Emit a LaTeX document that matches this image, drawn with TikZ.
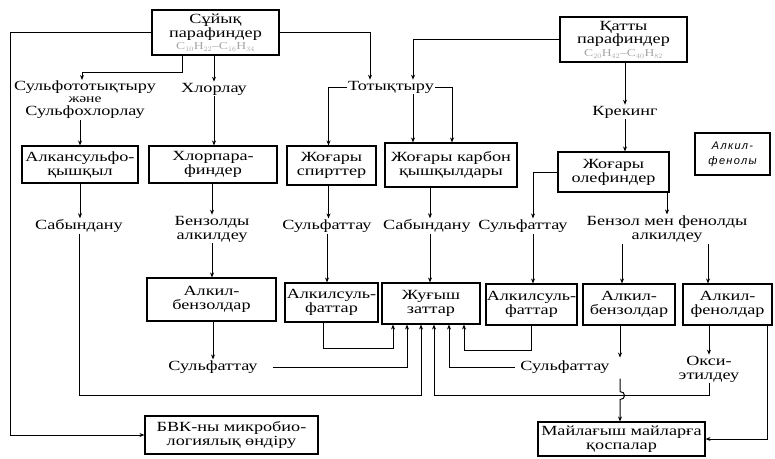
\documentclass[tikz,border=0pt]{standalone}
\usepackage{fontspec}
\setmainfont{Liberation Serif}[FakeStretch=1.3]
\newfontfamily\notefont{Liberation Sans}[LetterSpace=12]
\usetikzlibrary{arrows.meta}
\newcommand\formulatext{\fontsize{10.5}{11}\selectfont\color{black!35}}
\begin{document}
\begin{tikzpicture}[x=1pt,y=-1pt,
  every node/.style={font=\fontsize{14}{14}\selectfont, align=center, inner sep=1pt},
  pbox/.style 2 args={draw, line width=1.1pt, inner sep=0pt, minimum width=#1, minimum height=#2},
  feedbox/.style={pbox={127pt}{45pt}, font=\fontsize{14}{12.5}\selectfont},
  notebox/.style={draw, line width=1.1pt, inner sep=0pt, minimum width=75pt, minimum height=42pt,
    font=\notefont\itshape\fontsize{11}{15}\selectfont},
  flow/.style={line width=1pt, -{Stealth[length=5pt,width=4pt]}}
]
\useasboundingbox (0,0) rectangle (775,458);

% raw materials
\node[feedbox] (suy) at (215.5,32.5) {Сұйық\\парафиндер\\{\formulatext C$_{10}$H$_{22}$–C$_{16}$H$_{34}$}};
\node[feedbox] (kat) at (623.5,39.5) {Қатты\\парафиндер\\{\formulatext C$_{20}$H$_{42}$–C$_{40}$H$_{82}$}};

% first processes
\node (sulfox) at (85,100) {Сульфототықтыру\\[-2pt]{\fontsize{12}{10}\selectfont және}\\[-1pt]Сульфохлорлау};
\node (hlor) at (214,89) {Хлорлау};
\node (tot) at (391,87) {Тотықтыру};
\node (krek) at (625,112) {Крекинг};

% intermediate products
\node[pbox={116pt}{37pt}] (alks) at (80,164.5) {Алкансульфо-\\қышқыл};
\node[pbox={128pt}{37pt}] (hlp) at (213,164.5) {Хлорпара-\\финдер};
\node[pbox={89pt}{39pt}] (spir) at (331.5,165.5) {Жоғары\\спирттер};
\node[pbox={132pt}{44pt}] (karb) at (451,165) {Жоғары карбон\\қышқылдары};
\node[pbox={111pt}{40pt}] (olef) at (613.5,172) {Жоғары\\олефиндер};
\node[notebox] (alfen) at (732.5,154) {Алкил-\\фенолы};

% second processes
\node (sab1) at (79,226) {Сабындану};
\node (benz) at (212,229) {Бензолды\\алкилдеу};
\node (sulf1) at (327,226) {Сульфаттау};
\node (sab2) at (427,226) {Сабындану};
\node (sulf2) at (523,226) {Сульфаттау};
\node (benfen) at (667,229) {Бензол мен фенолды\\алкилдеу};

% products
\node[pbox={129pt}{43pt}] (albz1) at (211.5,299.5) {Алкил-\\бензолдар};
\node[pbox={93pt}{39pt}] (alsf1) at (331.5,302.5) {Алкилсуль-\\фаттар};
\node[pbox={98pt}{41pt}] (zhug) at (431,303.5) {Жуғыш\\заттар};
\node[pbox={91pt}{41pt}] (alsf2) at (531.5,304.5) {Алкилсуль-\\фаттар};
\node[pbox={92pt}{41pt}] (albz2) at (629,304.5) {Алкил-\\бензолдар};
\node[pbox={89pt}{41pt}] (alfd) at (727.5,304.5) {Алкил-\\фенолдар};

% final processes
\node (sulf3) at (213,367) {Сульфаттау};
\node (sulf4) at (565,367) {Сульфаттау};
\node (oksi) at (709,369) {Окси-\\этилдеу};

% end products
\node[pbox={173pt}{38pt}] (bvk) at (231.5,435) {БВК-ны микробио-\\логиялық өндіру};
\node[pbox={167pt}{34pt}] (mai) at (621.5,439) {Майлағыш майларға\\қоспалар};

\coordinate (lft) at (10,0);
\coordinate (bus) at (0,395);

% from the raw materials
\draw[flow] (suy.west) -- (suy.west -| lft) -- (lft |- bvk.west) -- (bvk.west);
\draw[flow] ([xshift=-33.5pt]suy.south) -- ++(0,17) -| ([xshift=-3pt]sulfox.north);
\draw[flow] (suy.south -| hlor.north) -- (hlor.north);
\draw[flow] (suy.east) -| ([xshift=-21pt]tot.north);
\draw[flow] (kat.west) -| ([xshift=22pt]tot.north);
\draw[flow] (kat.south -| krek.north) -- (krek.north);

% first processes to intermediates
\draw[flow] (alks.north |- sulfox.south) -- (alks.north);
\draw[flow] (hlor.south) -- (hlor.south |- hlp.north);
\draw[flow] (tot.west) -| ([xshift=-3pt]spir.north);
\draw[flow] (tot.east) -| ([xshift=1pt]karb.north);
\draw[flow] ([xshift=22pt]tot.south) -- ([xshift=22pt]tot.south |- karb.north);
\draw[flow] (krek.south) -- (krek.south |- olef.north);

% intermediates to second processes
\draw[flow] (alks.south) -- (alks.south |- sab1.north);
\draw[flow] (hlp.south -| benz.north) -- (benz.north);
\draw[flow] ([xshift=-3pt]spir.south) -- ([xshift=-3pt]spir.south |- sulf1.north);
\draw[flow] ([xshift=-21pt]karb.south) -- ([xshift=-21pt]karb.south |- sab2.north);
\draw[flow] (olef.west) -| ([xshift=10pt]sulf2.north);
\draw[flow] (olef.south -| benfen.north) -- (benfen.north);

% second processes to products
\draw[flow] (benz.south) -- (benz.south |- albz1.north);
\draw[flow] (sulf1.south) -- (sulf1.south |- alsf1.north);
\draw[flow] ([xshift=-21pt]karb.south |- sab2.south) -- ([xshift=-21pt]karb.south |- zhug.north);
\draw[flow] ([xshift=10pt]sulf2.south) -- ([xshift=10pt]sulf2.south |- alsf2.north);
\draw[flow] ([xshift=-45pt]benfen.south) -- ([xshift=-45pt]benfen.south |- albz2.north);
\draw[flow] ([xshift=41pt]benfen.south) -- ([xshift=41pt]benfen.south |- alfd.north);

% collecting into the detergents
\draw[flow] (albz1.south -| sulf3.north) -- (sulf3.north);
\draw[flow] ([xshift=14pt]sulf3.east) -| ([xshift=-24pt]zhug.south);
\draw[flow] ([xshift=-8pt]alsf1.south) -- ++(0,26) -| ([xshift=-38pt]zhug.south);
\draw[flow] (sab1.south) -- (sab1.south |- bus) -| ([xshift=-10pt]zhug.south);
\draw[flow] (alsf2.south) -- ++(0,25) -| ([xshift=33pt]zhug.south);
\draw[flow] ([xshift=-4pt]sulf4.west) -| ([xshift=18pt]zhug.south);
\draw[flow] (oksi.south) -- (oksi.south |- bus) -| ([xshift=3pt]zhug.south);

% lubricant additives
\draw[flow] ([xshift=-9pt]albz2.south) -- ++(0,32);
\draw[flow] ([xshift=-9pt,yshift=-53pt]albz2.south) -- ++(0,13)
  .. controls +(6,0) and +(6,0) .. ++(0,8) -- ([xshift=-9pt]albz2.south |- mai.north);
\draw[flow] (alfd.south -| oksi.north) -- (oksi.north);
\draw[flow] ([xshift=-5pt]alfd.south east) |- (mai.east);
\end{tikzpicture}
\end{document}
